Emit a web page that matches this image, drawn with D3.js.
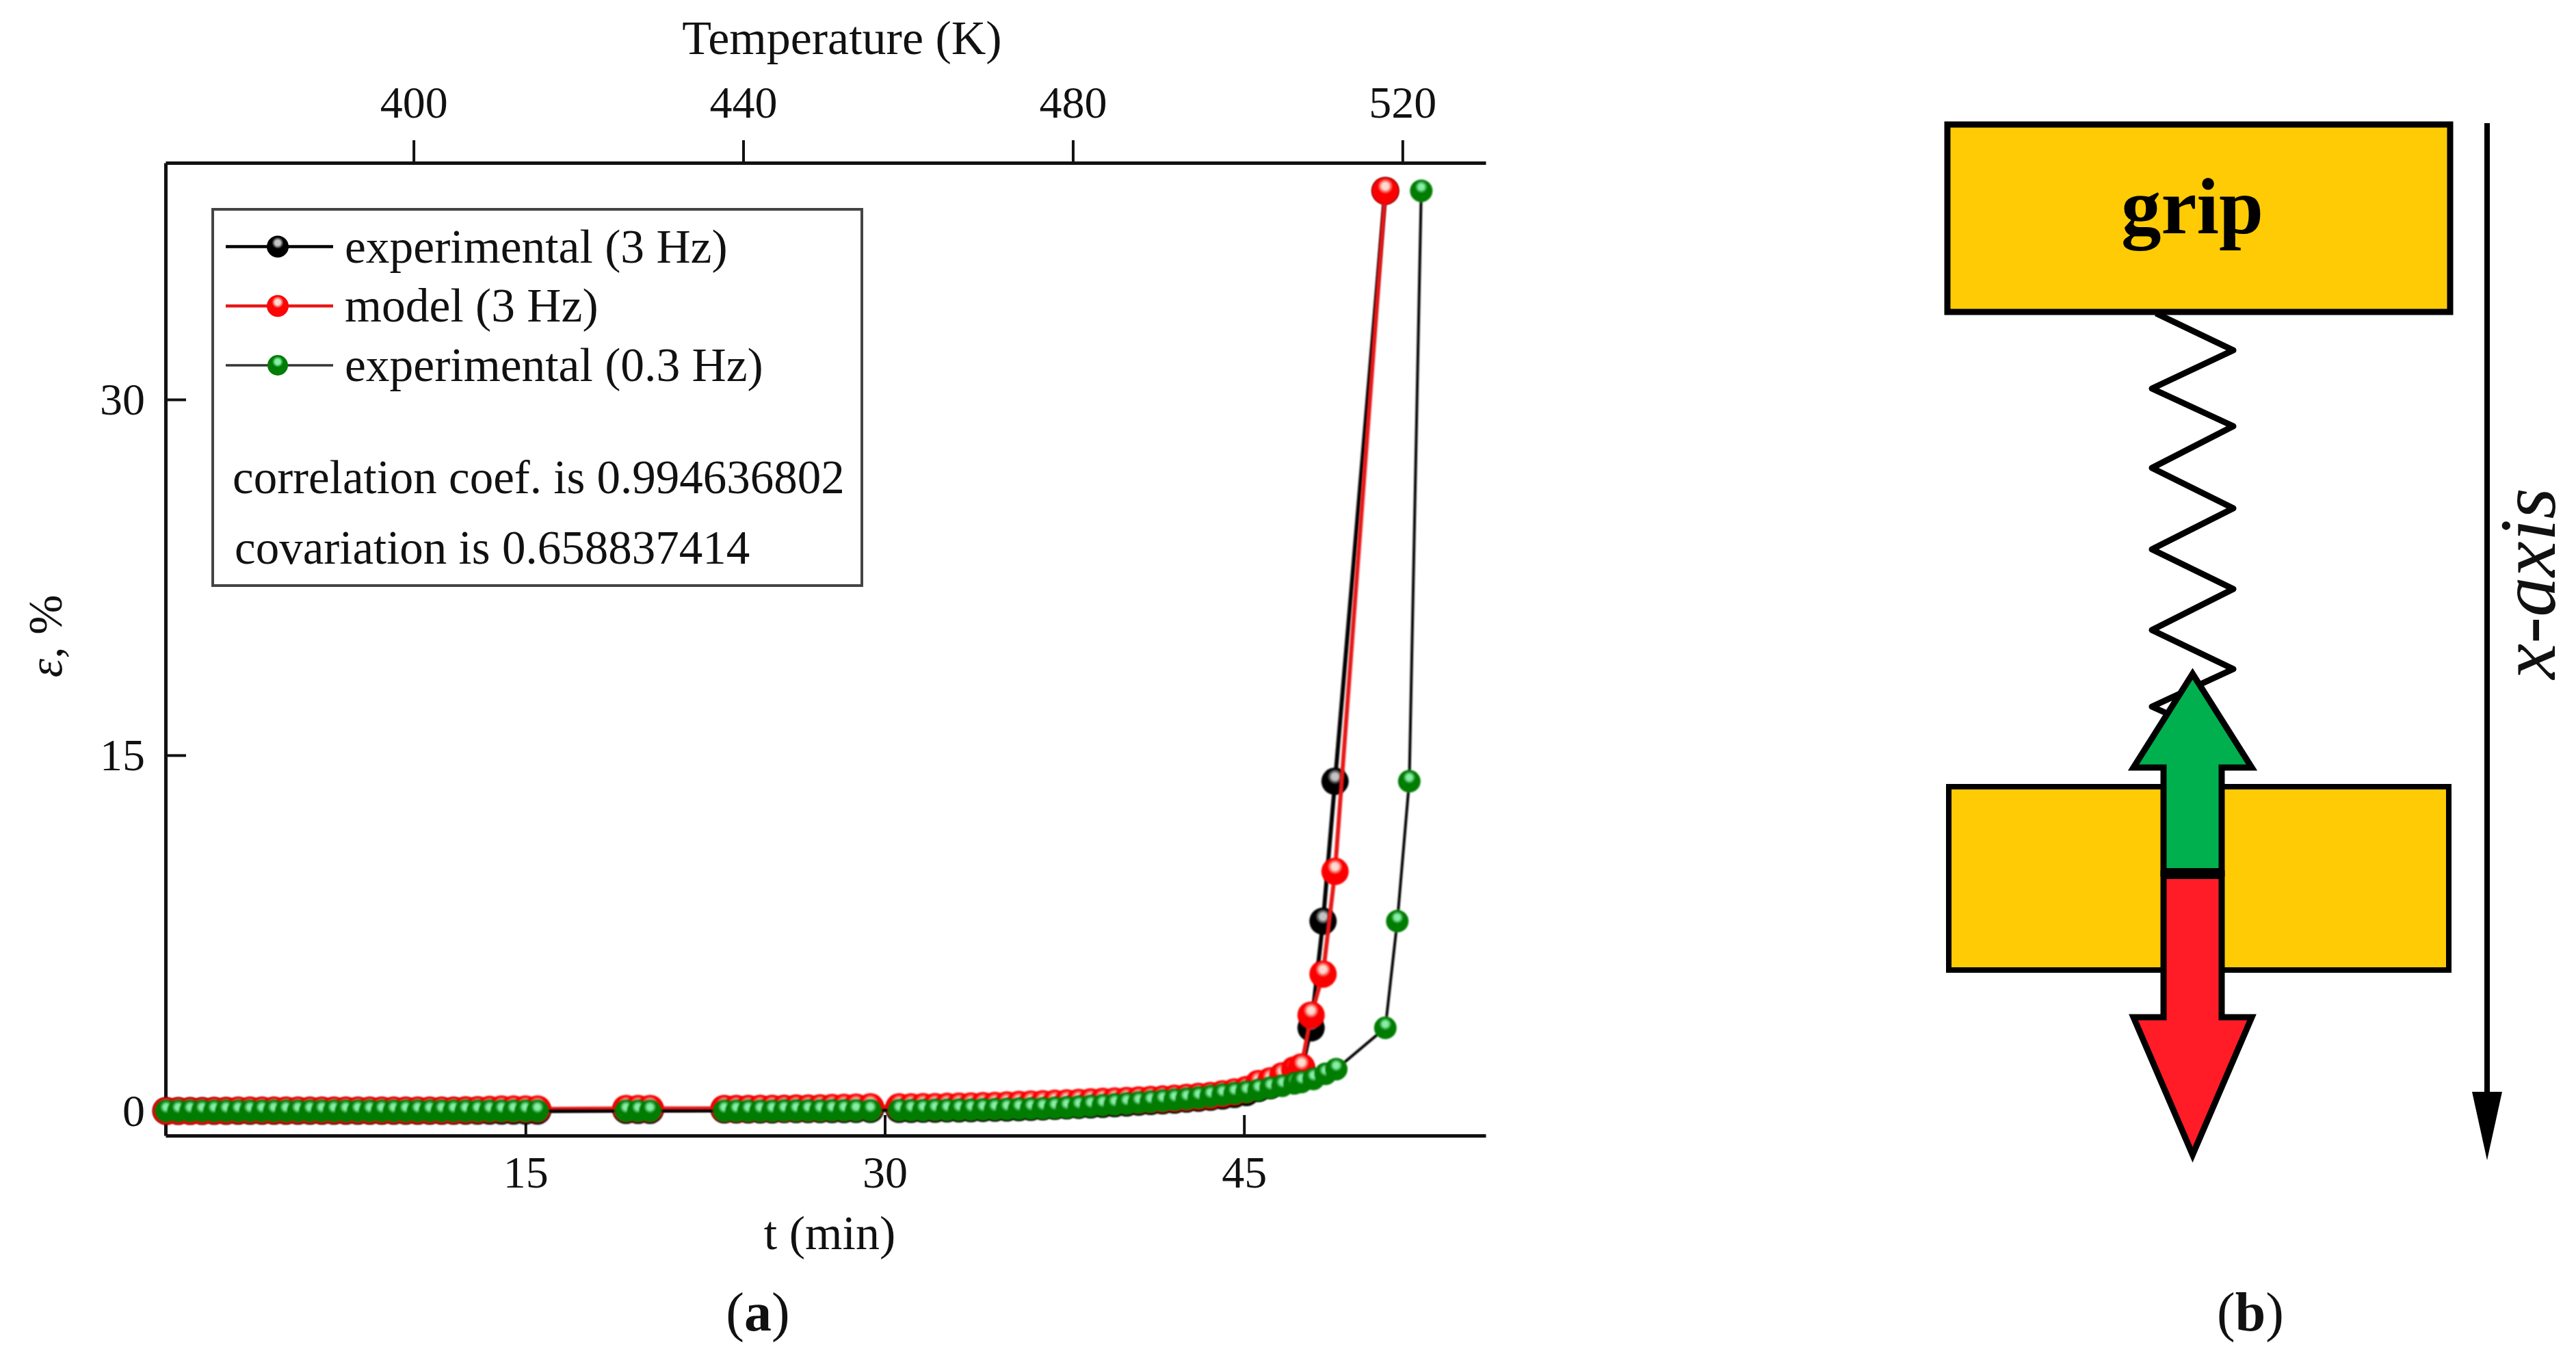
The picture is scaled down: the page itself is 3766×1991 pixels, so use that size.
<!DOCTYPE html>
<html>
<head>
<meta charset="utf-8">
<script src="https://cdn.jsdelivr.net/npm/d3@7"></script>
<style>
  html, body { margin: 0; background: #fff; }
  text { font-family: "Liberation Serif", serif; fill: #111; }
</style>
</head>
<body>
<svg id="fig" width="3766" height="1991"></svg>
<script>
var seriesNames = ["experimental (3 Hz)", "model (3 Hz)", "experimental (0.3 Hz)"];
var seriesColors = ["#000000", "#fb0505", "#007d05"];
var seriesGlints = ["#c4c4c4", "#ffdcd0", "#86f0a4"];
var noteLines = ["correlation coef. is 0.994636802", "covariation is 0.658837414"];
var bottomTicks = [15, 30, 45];
var topTicks = [400, 440, 480, 520];
var leftTicks = [0, 15, 30];

// time of the points, four recorded stretches
var tLow = [0.0, 0.5, 1.0, 1.5, 2.0, 2.5, 3.0, 3.5, 4.0, 4.5, 5.0, 5.5, 6.0, 6.5, 7.0, 7.5,
  8.0, 8.5, 9.0, 9.5, 10.0, 10.5, 11.0, 11.5, 12.0, 12.5, 13.0, 13.5, 14.0, 14.5, 15.0, 15.5,
  19.2, 19.7, 20.2,
  23.3, 23.8, 24.3, 24.8, 25.3, 25.8, 26.3, 26.8, 27.3, 27.8, 28.3, 28.8, 29.4,
  30.6, 31.1, 31.6, 32.1, 32.6, 33.1, 33.6, 34.1, 34.6, 35.1, 35.6, 36.1, 36.6, 37.1, 37.6, 38.1,
  38.6, 39.1, 39.6, 40.1, 40.6, 41.1, 41.6, 42.1, 42.6, 43.1, 43.6, 44.1, 44.6, 45.1, 45.6, 46.1,
  46.6, 47.1, 47.4];
var tGreenTail = [47.9, 48.4, 48.85, 50.9, 51.4, 51.9, 52.4];
var tFastTail = [47.8, 48.3, 48.8, 50.9];

var strainBlack = [0.0, 0.0, 0.0, 0.0, 0.0, 0.0, 0.0, 0.0, 0.0, 0.0, 0.0, 0.0, 0.0, 0.0, 0.0, 0.0,
  0.0, 0.0, 0.0, 0.0, 0.0, 0.0, 0.0, 0.0, 0.0, 0.0, 0.0, 0.0, 0.0, 0.0, 0.0, 0.0,
  0.03, 0.03, 0.03,
  0.05, 0.05, 0.05, 0.05, 0.05, 0.06, 0.06, 0.06, 0.06, 0.06, 0.06, 0.07, 0.07,
  0.07, 0.07, 0.08, 0.08, 0.09, 0.09, 0.1, 0.11, 0.12, 0.13, 0.14, 0.16, 0.18, 0.2, 0.22, 0.24,
  0.26, 0.28, 0.31, 0.34, 0.37, 0.4, 0.43, 0.46, 0.5, 0.54, 0.58, 0.63, 0.7, 0.78, 0.95, 1.08,
  1.28, 1.55, 1.7];
var strainBlackTail = [3.5, 8.0, 13.9, 38.8];

var strainModel = [0.0, 0.0, 0.0, 0.0, 0.01, 0.01, 0.03, 0.03, 0.03, 0.03, 0.03, 0.03, 0.03, 0.03, 0.03, 0.03,
  0.03, 0.03, 0.03, 0.03, 0.03, 0.03, 0.03, 0.03, 0.03, 0.04, 0.05, 0.06, 0.08, 0.08, 0.08, 0.08,
  0.1, 0.1, 0.1,
  0.1, 0.1, 0.1, 0.11, 0.11, 0.11, 0.12, 0.12, 0.13, 0.14, 0.15, 0.16, 0.17,
  0.17, 0.17, 0.18, 0.18, 0.19, 0.2, 0.21, 0.22, 0.23, 0.25, 0.27, 0.29, 0.3, 0.32, 0.34, 0.36,
  0.38, 0.4, 0.42, 0.44, 0.46, 0.48, 0.5, 0.53, 0.57, 0.61, 0.65, 0.72, 0.8, 0.9, 1.15, 1.27,
  1.48, 1.73, 1.85];
var strainModelTail = [4.04, 5.77, 10.1, 38.8];

var strainGreen = [0.0, 0.0, 0.0, 0.0, 0.0, 0.0, 0.0, 0.0, 0.0, 0.0, 0.0, 0.0, 0.0, 0.0, 0.0, 0.0,
  0.0, 0.0, 0.0, 0.0, 0.0, 0.0, 0.0, 0.0, 0.0, 0.0, 0.0, 0.0, 0.0, 0.0, 0.0, 0.0,
  0.0, 0.0, 0.0,
  0.0, 0.0, 0.0, 0.0, 0.0, 0.01, 0.01, 0.01, 0.01, 0.02, 0.02, 0.02, 0.02,
  0.03, 0.03, 0.03, 0.04, 0.04, 0.05, 0.05, 0.06, 0.07, 0.08, 0.09, 0.1, 0.11, 0.13, 0.15, 0.18,
  0.21, 0.24, 0.27, 0.31, 0.35, 0.39, 0.43, 0.47, 0.51, 0.56, 0.62, 0.68, 0.74, 0.8, 0.88, 0.97,
  1.06, 1.16, 1.22];
var strainGreenTail = [1.35, 1.56, 1.76, 3.5, 8.0, 13.9, 38.8];

var plot = { left: 242, right: 2172, top: 238, bottom: 1660 };

var svg = d3.select("#fig");
var defs = svg.append("defs");

var x = d3.scaleLinear().domain([-0.03, 55.09]).range([plot.left, plot.right]);
var xTop = d3.scaleLinear().domain([369.9, 530.1]).range([plot.left, plot.right]);
var y = d3.scaleLinear().domain([-1.04, 39.98]).range([plot.bottom, plot.top]);

var styleAxis = function(g, size) {
    g.selectAll("path.domain").attr("stroke", "#111").attr("stroke-width", 5);
    g.selectAll(".tick line").attr("stroke", "#111").attr("stroke-width", 4);
    g.selectAll(".tick text").attr("font-size", size).attr("font-family", "Liberation Serif").attr("fill", "#111");
    g.attr("font-family", null);
};

var gBottom = svg.append("g").attr("transform", "translate(0," + plot.bottom + ")")
    .call(d3.axisBottom(x).tickValues(bottomTicks).tickSizeInner(-30).tickSizeOuter(0).tickPadding(29));
styleAxis(gBottom, 66);

var gTop = svg.append("g").attr("transform", "translate(0," + plot.top + ")")
    .call(d3.axisTop(xTop).tickValues(topTicks).tickSizeInner(33).tickSizeOuter(0).tickPadding(33));
styleAxis(gTop, 66);

var gLeft = svg.append("g").attr("transform", "translate(" + plot.left + ",0)")
    .call(d3.axisLeft(y).tickValues(leftTicks).tickSizeInner(-30).tickSizeOuter(0).tickPadding(30));
styleAxis(gLeft, 66);

svg.append("text").attr("x", 1231).attr("y", 79).attr("text-anchor", "middle")
    .attr("font-size", 70).text("Temperature (K)");
svg.append("text").attr("x", 1213).attr("y", 1826).attr("text-anchor", "middle")
    .attr("font-size", 70).text("t (min)");

var yTitle = svg.append("text").attr("transform", "translate(90,930) rotate(-90)")
    .attr("text-anchor", "middle").attr("font-size", 70);
yTitle.append("tspan").attr("font-style", "italic").text("\u03b5");
yTitle.append("tspan").text(", %");

// one shaded ball per series, glint sits above the middle
seriesColors.forEach(function(c, i) {
    var grad = defs.append("radialGradient").attr("id", "ball" + i)
        .attr("cx", 0.5).attr("cy", 0.33).attr("r", 0.27);
    grad.append("stop").attr("offset", "0%").attr("stop-color", seriesGlints[i]);
    grad.append("stop").attr("offset", "45%").attr("stop-color", seriesGlints[i]);
    grad.append("stop").attr("offset", "100%").attr("stop-color", c);
});
defs.append("filter").attr("id", "soft").append("feGaussianBlur").attr("stdDeviation", 1.2);

var line = d3.line().x(function(d) { return x(d[0]); }).y(function(d) { return y(d[1]); });

var allSeries = [
    { pts: d3.zip(tLow.concat(tFastTail), strainBlack.concat(strainBlackTail)), r: 20, lw: 6, stroke: "#000" },
    { pts: d3.zip(tLow.concat(tFastTail), strainModel.concat(strainModelTail)), r: 20, lw: 6, stroke: "#e81818" },
    { pts: d3.zip(tLow.concat(tGreenTail), strainGreen.concat(strainGreenTail)), r: 16.5, lw: 4, stroke: "#000" }
];

allSeries.forEach(function(s, i) {
    var g = svg.append("g").attr("filter", "url(#soft)");
    g.append("path").attr("d", line(s.pts)).attr("fill", "none")
        .attr("stroke", s.stroke).attr("stroke-width", s.lw);
    g.selectAll("circle").data(s.pts).enter().append("circle")
        .attr("cx", function(d) { return x(d[0]); })
        .attr("cy", function(d) { return y(d[1]); })
        .attr("r", s.r)
        .attr("fill", "url(#ball" + i + ")");
});

// legend box
var legend = svg.append("g");
legend.append("rect").attr("x", 311).attr("y", 306).attr("width", 949).attr("height", 550)
    .attr("fill", "#fff").attr("stroke", "#444").attr("stroke-width", 4);
var legendY = d3.scalePoint().domain(seriesNames).range([360.5, 534]);
seriesNames.forEach(function(name, i) {
    var ly = legendY(name);
    legend.append("line").attr("x1", 330).attr("x2", 487).attr("y1", ly).attr("y2", ly)
        .attr("stroke", i == 2 ? "#333" : allSeries[i].stroke).attr("stroke-width", i == 2 ? 3.5 : 4.5);
    legend.append("circle").attr("cx", 406).attr("cy", ly).attr("r", i == 2 ? 15 : 16)
        .attr("fill", "url(#ball" + i + ")");
    legend.append("text").attr("x", 504).attr("y", ly + 23).attr("font-size", 69.5).text(name);
});
legend.append("text").attr("x", 340).attr("y", 721).attr("font-size", 69).text(noteLines[0]);
legend.append("text").attr("x", 343).attr("y", 824).attr("font-size", 69).text(noteLines[1]);

svg.append("g").selectAll("text").data([["(", "a", ")", 1108], ["(", "b", ")", 3290]]).enter()
    .append("text").attr("x", function(d) { return d[3]; }).attr("y", 1945)
    .attr("text-anchor", "middle").attr("font-size", 80)
    .each(function(d) {
        var t = d3.select(this);
        t.append("tspan").text(d[0]);
        t.append("tspan").attr("font-weight", "bold").text(d[1]);
        t.append("tspan").text(d[2]);
    });

// panel b, the specimen sketch
var yellow = "#ffcb05", arrowGreen = "#00b04f", arrowRed = "#ff1c27";
var path = d3.line();

svg.append("rect").attr("x", 2847).attr("y", 182).attr("width", 735).attr("height", 274)
    .attr("fill", yellow).attr("stroke", "#000").attr("stroke-width", 9);
svg.append("text").attr("x", 3205).attr("y", 341).attr("text-anchor", "middle")
    .attr("font-size", 117).attr("font-weight", "bold").style("fill", "#000").text("grip");

var springPts = [[3152, 458], [3265, 512], [3146, 568], [3265, 623], [3146, 684], [3265, 743],
    [3146, 803], [3265, 861], [3146, 921], [3265, 978], [3146, 1033], [3175, 1046]];
svg.append("path").attr("d", path(springPts)).attr("fill", "none").attr("stroke", "#000")
    .attr("stroke-width", 9).attr("stroke-linejoin", "round");

svg.append("rect").attr("x", 2849).attr("y", 1150).attr("width", 731).attr("height", 268)
    .attr("fill", yellow).attr("stroke", "#000").attr("stroke-width", 8);

var upArrow = [[3205.5, 985], [3292, 1122], [3248, 1122], [3248, 1277], [3163, 1277], [3163, 1122], [3119, 1122]];
var downArrow = [[3205.5, 1688], [3292, 1487], [3248, 1487], [3248, 1277], [3163, 1277], [3163, 1487], [3119, 1487]];
svg.append("path").attr("d", path(upArrow) + "Z").attr("fill", arrowGreen).attr("stroke", "#000")
    .attr("stroke-width", 9).attr("stroke-linejoin", "miter");
svg.append("path").attr("d", path(downArrow) + "Z").attr("fill", arrowRed).attr("stroke", "#000")
    .attr("stroke-width", 9).attr("stroke-linejoin", "miter");
svg.append("rect").attr("x", 3163).attr("y", 1269).attr("width", 85).attr("height", 16).attr("fill", "#000");

// x-axis pointer
svg.append("line").attr("x1", 3636).attr("x2", 3636).attr("y1", 180).attr("y2", 1620)
    .attr("stroke", "#000").attr("stroke-width", 8);
svg.append("path").attr("d", path([[3614, 1596], [3658, 1596], [3636, 1696]]) + "Z").attr("fill", "#000");
svg.append("text").attr("transform", "translate(3735,853) rotate(-90)").attr("text-anchor", "middle")
    .attr("font-size", 117).attr("font-style", "italic").text("x-axis");
</script>
</body>
</html>
